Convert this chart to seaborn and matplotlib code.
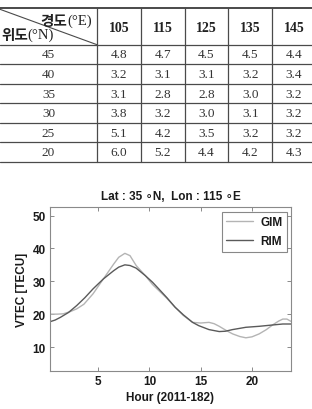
import numpy as np
import pandas as pd
import matplotlib
matplotlib.use("Agg")
import matplotlib.pyplot as plt
import seaborn as sns

# ---------------- data ----------------
lons = [105, 115, 125, 135, 145]
lats = [45, 40, 35, 30, 25, 20]
table_vals = [
    [4.8, 4.7, 4.5, 4.5, 4.4],
    [3.2, 3.1, 3.1, 3.2, 3.4],
    [3.1, 2.8, 2.8, 3.0, 3.2],
    [3.8, 3.2, 3.0, 3.1, 3.2],
    [5.1, 4.2, 3.5, 3.2, 3.2],
    [6.0, 5.2, 4.4, 4.2, 4.3],
]

gim_hour = [0.3, 1.0, 1.6, 2.3, 2.9, 3.6, 4.5, 5.5, 6.5, 7.0, 7.6, 8.1, 8.7, 9.6,
            10.3, 10.9, 11.7, 12.5, 13.3, 14.2, 15.0, 15.8, 16.3, 16.8, 17.5, 18.1,
            18.8, 19.4, 20.0, 20.7, 21.4, 22.0, 22.6, 23.0, 23.4, 23.8]
gim_vtec = [20.0, 20.0, 20.1, 20.8, 21.6, 23.0, 26.2, 30.7, 35.2, 37.3, 38.5, 37.8, 34.8, 31.7,
            29.0, 27.2, 24.8, 22.1, 19.6, 17.5, 17.3, 17.5, 17.1, 16.3, 15.0, 14.0,
            13.2, 12.8, 13.1, 14.0, 15.3, 16.7, 17.9, 18.5, 18.5, 17.8]

rim_hour = [0.3, 0.8, 1.3, 2.1, 2.9, 3.7, 4.5, 5.5, 6.5, 7.0, 7.6, 8.1, 8.7, 9.6,
            10.3, 10.9, 11.7, 12.5, 13.3, 14.2, 14.8, 15.8, 16.8, 17.4, 18.1, 19.4,
            20.7, 22.0, 23.0, 23.8]
rim_vtec = [17.7, 18.2, 19.0, 20.5, 22.6, 25.0, 27.7, 30.7, 33.2, 34.3, 35.0, 34.8, 34.0, 31.7,
            29.7, 27.7, 25.0, 22.1, 19.8, 17.5, 16.5, 15.3, 14.7, 14.8, 15.3, 16.0,
            16.3, 16.7, 17.0, 17.0]

x_ticks = [5, 10, 15, 20]
y_ticks = [10, 20, 30, 40, 50]

df = pd.concat([
    pd.DataFrame({"Hour": gim_hour, "VTEC": gim_vtec, "Model": "GIM"}),
    pd.DataFrame({"Hour": rim_hour, "VTEC": rim_vtec, "Model": "RIM"}),
], ignore_index=True)

# ---------------- figure ----------------
sns.set_theme(style="white")
plt.rcParams['font.family'] = ['Liberation Sans', 'DejaVu Sans']

W, H = 312, 410
fig = plt.figure(figsize=(W / 100, H / 100), dpi=100)
fig.patch.set_facecolor("white")

# ----- table (pixel coordinate overlay) -----
tax = fig.add_axes([0, 0, 1, 1])
tax.set_xlim(0, W)
tax.set_ylim(H, 0)
tax.axis("off")

line_c = "#4a4a4a"
top_y, head_y, row_h = 9.3, 45.7, 19.55
col0_w, col_x0, col_w = 97.0, 97.0, 43.8
serif = ['Liberation Serif', 'Noto Sans CJK KR']
kr = ['Noto Sans CJK KR', 'DejaVu Sans']

n_rows = len(lats)
n_cols = len(lons)
tax.plot([0, W], [top_y, top_y], color=line_c, lw=1.4)
for i in range(n_rows + 1):
    yy = head_y + i * row_h
    tax.plot([0, W], [yy, yy], color=line_c, lw=0.9)
bottom_y = head_y + n_rows * row_h
for j in range(n_cols):
    xx = col_x0 + j * col_w
    tax.plot([xx, xx], [top_y, bottom_y], color=line_c, lw=0.9)
tax.plot([0, col0_w], [top_y + 1, head_y], color=line_c, lw=0.8)

renderer = fig.canvas.get_renderer()
t_unit = tax.text(92, 21.5, "(°E)", family=serif, fontsize=10.5, ha="right", va="center",
                  color="#222222")
bb = t_unit.get_window_extent(renderer)
x_left = tax.transData.inverted().transform((bb.x0, bb.y0))[0]
tax.text(x_left, 21.0, "경도", family=kr, fontsize=10.5, fontweight="bold", ha="right",
         va="center", color="#222222")

t_kr = tax.text(1.0, 35.0, "위도", family=kr, fontsize=10.5, fontweight="bold", ha="left",
                va="center", color="#222222")
bb = t_kr.get_window_extent(renderer)
x_right = tax.transData.inverted().transform((bb.x1, bb.y0))[0]
tax.text(x_right, 35.5, "(°N)", family=serif, fontsize=10.5, ha="left", va="center",
         color="#222222")

for j, lon in enumerate(lons):
    cx = col_x0 + (j + 0.5) * col_w
    tax.text(cx, (top_y + head_y) / 2 + 0.5, str(lon), family=serif, fontsize=10,
             fontweight="bold", ha="center", va="center", color="#222222")

for i, lat in enumerate(lats):
    cy = head_y + (i + 0.5) * row_h
    tax.text(col0_w / 2, cy, str(lat), family=serif, fontsize=9.5,
             ha="center", va="center", color="#333333")
    for j in range(n_cols):
        cx = col_x0 + (j + 0.5) * col_w
        tax.text(cx, cy, f"{table_vals[i][j]:.1f}", family=serif, fontsize=9.5,
                 ha="center", va="center", color="#333333")

# ----- line chart -----
ax = fig.add_axes([50 / W, (H - 372) / H, 241 / W, 164 / H])
sns.lineplot(data=df, x="Hour", y="VTEC", hue="Model", ax=ax,
             palette={"GIM": "#b4b4b4", "RIM": "#5a5a5a"}, linewidth=1.0,
             sort=False, estimator=None)

ax.set_xlim(0.3, 23.8)
ax.set_ylim(2.7, 52.6)
ax.set_xticks(x_ticks)
ax.set_yticks(y_ticks)
ax.tick_params(direction="in", length=3, width=0.6, color="#777777",
               top=True, right=True, bottom=True, left=True, labelsize=8.5, pad=3)
for lab in ax.get_xticklabels() + ax.get_yticklabels():
    lab.set_fontweight("bold")
    lab.set_color("#1a1a1a")
for sp in ax.spines.values():
    sp.set_color("#8a8a8a")
    sp.set_linewidth(0.8)

ax.set_xlabel("Hour (2011-182)", fontsize=8.5, fontweight="bold", color="#1a1a1a", labelpad=3)
ax.set_ylabel("VTEC [TECU]", fontsize=8.5, fontweight="bold", color="#1a1a1a", labelpad=3)
ax.set_title("Lat : 35 ∘N,  Lon : 115 ∘E", fontsize=8.5, fontweight="bold",
             color="#1a1a1a", pad=6)

leg = ax.legend(loc="upper right", bbox_to_anchor=(0.985, 0.972), borderaxespad=0,
                frameon=True, fancybox=False, fontsize=8.5, handlelength=2.3,
                handletextpad=0.6, labelspacing=0.55, borderpad=0.4,
                markerfirst=True, title=None)
leg.get_frame().set_edgecolor("#6a6a6a")
leg.get_frame().set_linewidth(0.8)
for t in leg.get_texts():
    t.set_fontweight("bold")
    t.set_color("#1a1a1a")

fig.savefig("out.png", dpi=100)
